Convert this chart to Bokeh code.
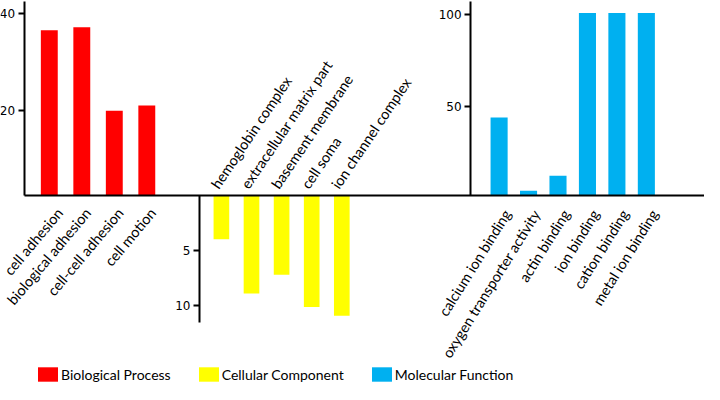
import math
from bokeh.plotting import figure
from bokeh.models import Range1d, LinearAxis, FixedTicker, Legend, LegendItem
from bokeh.embed import file_html
from bokeh.resources import INLINE

# ---------------- data ----------------
bp_terms = ["cell adhesion", "biological adhesion", "cell-cell adhesion", "cell motion"]
bp_values = [36.5, 37.1, 20.0, 21.1]

cc_terms = ["hemoglobin complex", "extracellular matrix part", "basement membrane",
            "cell soma", "ion channel complex"]
cc_values = [4.0, 8.9, 7.2, 10.1, 10.9]

mf_terms = ["calcium ion binding", "oxygen transporter activity", "actin binding",
            "ion binding", "cation binding", "metal ion binding"]
mf_values = [43.8, 3.7, 12.0, 101.0, 101.0, 101.0]

bp_ticks = [20, 40]
cc_ticks = [5, 10]
mf_ticks = [50, 100]

legend_labels = ["Biological Process", "Cellular Component", "Molecular Function"]
colors = ["#FF0000", "#FFFF00", "#00B0F0"]

# ---------------- layout (pixels inside the figure) ----------------
W, H = 704, 384
BASE_Y = 194.5          # the shared horizontal axis
BP_AXIS_X = 23.6
CC_AXIS_X = 199.0
MF_AXIS_X = 470.1
CC_AXIS_BOTTOM = 322.0

TICK_FONT = "DejaVu Sans"
TICK_SIZE = "12px"
CAT_FONT = "Lato"
CAT_SIZE = "14.5px"


def lin(v_a, px_a, v_b, px_b):
    k = (v_b - v_a) / (px_b - px_a)
    return lambda px: v_a + (px - px_a) * k


def x_rng(px0, step, shift=0.0):
    f = lin(0, px0 + shift, 1, px0 + shift + step)
    return Range1d(f(0), f(W))


def y_rng(v_a, px_a, v_b, px_b):
    f = lin(v_a, px_a, v_b, px_b)
    return Range1d(f(H), f(0)), f


p = figure(width=W, height=H, x_range=Range1d(0, W), y_range=Range1d(H, 0),
           x_axis_location=None, y_axis_location=None,
           toolbar_location=None, output_backend="svg", min_border=0)
p.outline_line_color = None
p.xgrid.visible = False
p.ygrid.visible = False
p.background_fill_color = "white"
p.border_fill_color = "white"

bp_yr, bp_f = y_rng(20, 110.3, 40, 12.6)
cc_yr, cc_f = y_rng(0, BASE_Y, 10, 305.3)
mf_yr, mf_f = y_rng(50, 105.7, 100, 14.3)

p.extra_x_ranges = {
    "bp": x_rng(48.8, 32.5), "bp_lab": x_rng(48.8, 32.5, 6),
    "cc": x_rng(220.9, 30.1), "cc_lab": x_rng(220.9, 30.1, -7),
    "mf": x_rng(498.6, 29.45), "mf_lab": x_rng(498.6, 29.45, 8),
}
p.extra_y_ranges = {"bp": bp_yr, "cc": cc_yr, "mf": mf_yr}

bp_base = bp_f(BASE_Y)
mf_base = mf_f(BASE_Y)

r_bp = p.vbar(x=list(range(len(bp_terms))), top=bp_values, bottom=bp_base, width=0.52,
              x_range_name="bp", y_range_name="bp", fill_color=colors[0], line_color=None)
r_cc = p.vbar(x=list(range(len(cc_terms))), top=cc_values, bottom=0, width=0.52,
              x_range_name="cc", y_range_name="cc", fill_color=colors[1], line_color=None)
r_mf = p.vbar(x=list(range(len(mf_terms))), top=mf_values, bottom=mf_base, width=0.58,
              x_range_name="mf", y_range_name="mf", fill_color=colors[2], line_color=None)


def y_axis(name, ticks, loc, lo, hi):
    ax = LinearAxis(y_range_name=name, fixed_location=loc, bounds=(lo, hi),
                    ticker=FixedTicker(ticks=ticks),
                    axis_line_width=2, axis_line_color="black",
                    major_tick_line_width=2, major_tick_line_color="black",
                    major_tick_out=6, major_tick_in=0,
                    minor_tick_line_color=None,
                    major_label_standoff=3,
                    major_label_text_font=TICK_FONT,
                    major_label_text_font_size=TICK_SIZE,
                    major_label_text_color="black")
    p.add_layout(ax, "left")


y_axis("bp", bp_ticks, BP_AXIS_X, bp_base, bp_f(0.5))
y_axis("cc", cc_ticks, CC_AXIS_X, 0, cc_f(CC_AXIS_BOTTOM))
y_axis("mf", mf_ticks, MF_AXIS_X, mf_base, mf_f(0.5))

# the long horizontal axis line
base_line = LinearAxis(fixed_location=BASE_Y, bounds=(BP_AXIS_X, W),
                       ticker=FixedTicker(ticks=[]),
                       axis_line_width=2, axis_line_color="black",
                       major_tick_line_color=None, minor_tick_line_color=None,
                       major_label_text_font_size="0px")
p.add_layout(base_line, "below")


def x_labels(name, terms, side, angle_deg, standoff):
    ax = LinearAxis(x_range_name=name, fixed_location=BASE_Y,
                    ticker=FixedTicker(ticks=list(range(len(terms)))),
                    major_label_overrides={i: t for i, t in enumerate(terms)},
                    major_label_orientation=math.radians(angle_deg),
                    major_label_standoff=standoff,
                    axis_line_color=None, major_tick_line_color=None,
                    minor_tick_line_color=None,
                    major_tick_out=0, major_tick_in=0,
                    major_label_text_font=CAT_FONT,
                    major_label_text_font_size=CAT_SIZE,
                    major_label_text_color="black")
    p.add_layout(ax, side)


x_labels("bp_lab", bp_terms, "below", 50, 15)
x_labels("cc_lab", cc_terms, "above", 56, 8)
x_labels("mf_lab", mf_terms, "below", 58, 16)

legend = Legend(items=[LegendItem(label=legend_labels[0], renderers=[r_bp]),
                       LegendItem(label=legend_labels[1], renderers=[r_cc]),
                       LegendItem(label=legend_labels[2], renderers=[r_mf])],
                orientation="horizontal", location=(35, 1),
                glyph_width=25, glyph_height=18, label_height=18,
                label_standoff=1, spacing=25, padding=0, margin=0,
                border_line_color=None, background_fill_alpha=0,
                label_text_font=CAT_FONT, label_text_font_size="14px",
                label_text_color="black")
p.add_layout(legend)

open("out.html", "w").write(file_html(p, INLINE))
